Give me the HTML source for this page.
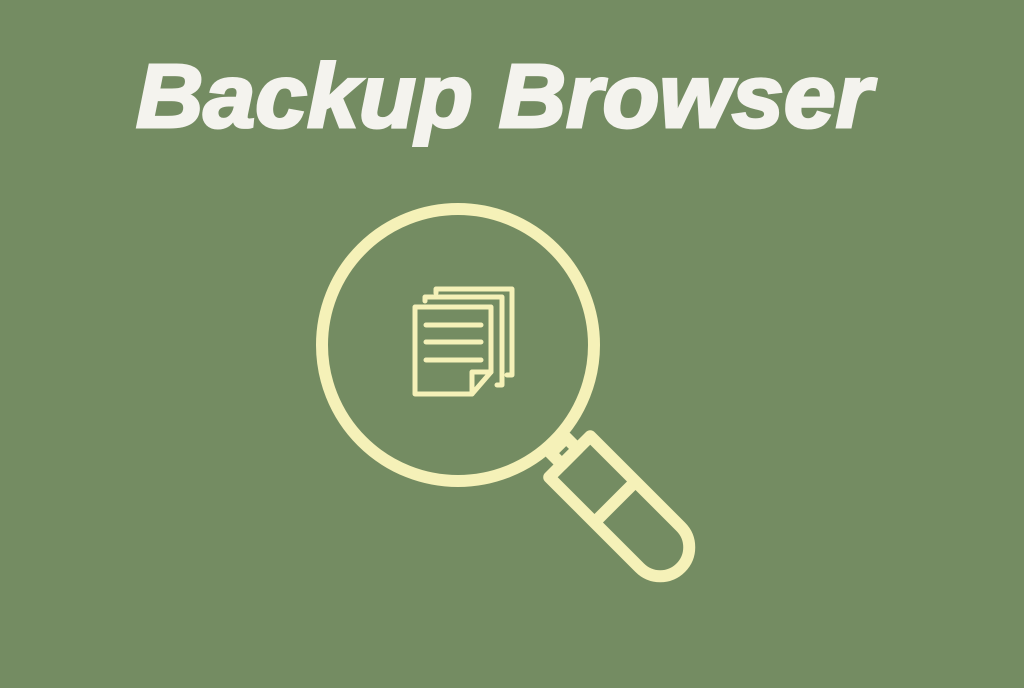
<!DOCTYPE html>
<html><head><style>html,body{margin:0;padding:0;background:#748c62;}</style></head>
<body>
<svg width="1024" height="683" viewBox="0 0 1024 683" xmlns="http://www.w3.org/2000/svg">
<rect width="1024" height="683" fill="#748c62"/>
<text x="136" y="127" font-family="Liberation Sans, sans-serif" font-weight="bold" font-style="italic" font-size="90" fill="#f4f3ee" textLength="736" lengthAdjust="spacingAndGlyphs" stroke="#f4f3ee" stroke-width="3">Backup Browser</text>
<g fill="none" stroke="#f5f1b8" stroke-width="12" stroke-linejoin="round">
<circle cx="458" cy="345" r="136"/>
<g transform="translate(458,345) rotate(45)">
<rect x="142" y="-11" width="16" height="22"/>
<path d="M158,-29 L286,-29 A29,29 0 0 1 286,29 L158,29 Z"/>
<line x1="222" y1="-29" x2="222" y2="29"/>
</g>
</g>
<g fill="none" stroke="#f5f1b8" stroke-width="5" stroke-linejoin="round" stroke-linecap="round">
<path d="M436,293 V289 H512 V375 H507"/>
<path d="M425,301 V297 H502 V385 H497"/>
<path d="M415,307 H491 V372 L472,394 H415 Z" fill="#748c62"/>
<path d="M491,372 H472 V394"/>
<line x1="426" y1="325" x2="481" y2="325"/>
<line x1="426" y1="342" x2="481" y2="342"/>
<line x1="426" y1="360" x2="481" y2="360"/>
</g>
</svg>
</body></html>
